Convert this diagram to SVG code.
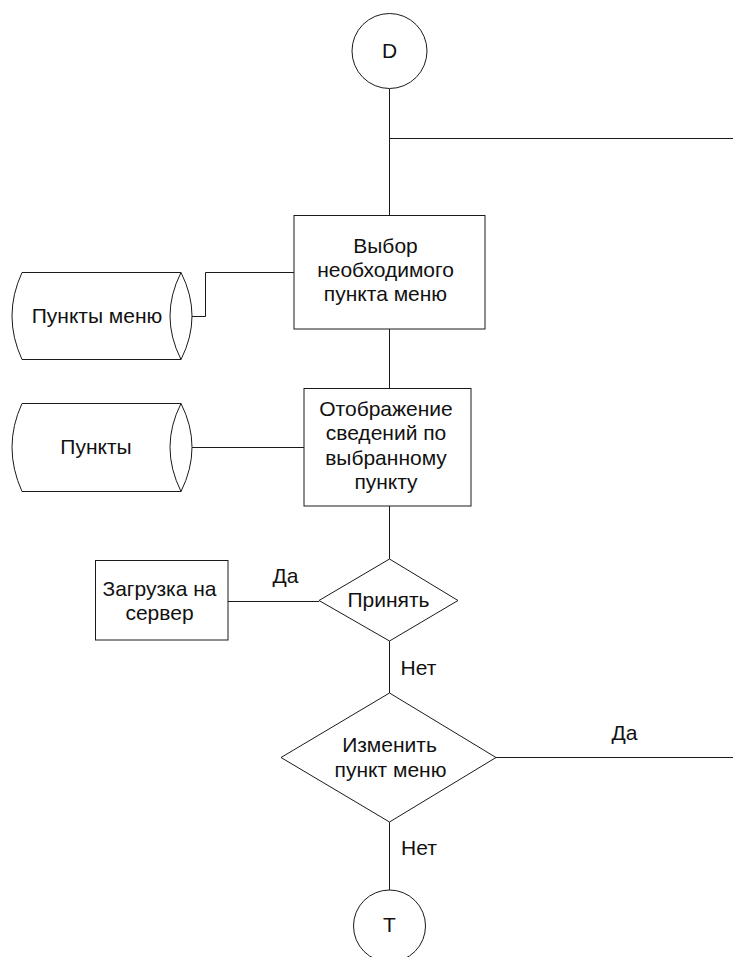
<svg xmlns="http://www.w3.org/2000/svg" width="733" height="957" viewBox="0 0 733 957">
  <style>
    .shape { fill: #ffffff; stroke: #1a1a1a; stroke-width: 1; }
    .line { fill: none; stroke: #1a1a1a; stroke-width: 1; }
    .label { font-family: "Liberation Sans", Arial, sans-serif; font-size: 21px; fill: #111111; text-anchor: middle; }
  </style>
  <rect width="733" height="957" fill="#ffffff"/>

  <!-- connectors -->
  <g id="connectors">
    <line class="line" x1="389.5" y1="89" x2="389.5" y2="215"/>
    <line class="line" x1="389.5" y1="138.5" x2="733" y2="138.5"/>
    <polyline class="line" points="192,316.5 205.5,316.5 205.5,272.5 294,272.5"/>
    <line class="line" x1="389.5" y1="329" x2="389.5" y2="388"/>
    <line class="line" x1="192" y1="447.5" x2="304" y2="447.5"/>
    <line class="line" x1="389.5" y1="506" x2="389.5" y2="559"/>
    <line class="line" x1="228" y1="601.5" x2="319" y2="601.5"/>
    <line class="line" x1="389.5" y1="641" x2="389.5" y2="693"/>
    <line class="line" x1="496" y1="757.5" x2="733" y2="757.5"/>
    <line class="line" x1="389.5" y1="822" x2="389.5" y2="890"/>
    <text class="label" x="285.5" y="583">Да</text>
    <text class="label" x="418.5" y="675">Нет</text>
    <text class="label" x="624.5" y="740">Да</text>
    <text class="label" x="419" y="855">Нет</text>
  </g>

  <!-- start connector -->
  <g id="node-d">
    <circle class="shape" cx="389.5" cy="51" r="37.5"/>
    <text class="label" x="389.5" y="57.5">D</text>
  </g>

  <!-- menu choice -->
  <g id="node-choose">
    <rect class="shape" x="294" y="215.5" width="191" height="113.5"/>
    <text class="label" x="385.5" y="253">Выбор</text>
    <text class="label" x="385.5" y="277">необходимого</text>
    <text class="label" x="385.5" y="301">пункта меню</text>
  </g>

  <!-- stored menu items -->
  <g id="node-menu-items">
    <path class="shape" d="M22,272.5 L181,272.5 Q203,316 181,359.5 L22,359.5 Q2,316 22,272.5 Z"/>
    <path class="line" d="M181,272.5 Q159,316 181,359.5"/>
    <text class="label" x="97" y="323">Пункты меню</text>
  </g>

  <!-- stored items -->
  <g id="node-items">
    <path class="shape" d="M22,403.5 L181,403.5 Q203,447 181,491.5 L22,491.5 Q2,447 22,403.5 Z"/>
    <path class="line" d="M181,403.5 Q159,447 181,491.5"/>
    <text class="label" x="96" y="454">Пункты</text>
  </g>

  <!-- details display -->
  <g id="node-details">
    <rect class="shape" x="304" y="388.5" width="167" height="117.5"/>
    <text class="label" x="386" y="416">Отображение</text>
    <text class="label" x="386" y="440">сведений по</text>
    <text class="label" x="386" y="465">выбранному</text>
    <text class="label" x="386" y="489">пункту</text>
  </g>

  <!-- accept decision -->
  <g id="node-accept">
    <polygon class="shape" points="389.5,559 458,600.5 389.5,641 319,600.5"/>
    <text class="label" x="388.5" y="607">Принять</text>
  </g>

  <!-- upload -->
  <g id="node-upload">
    <rect class="shape" x="95.5" y="560.5" width="132.5" height="79.5"/>
    <text class="label" x="159.5" y="596">Загрузка на</text>
    <text class="label" x="159.5" y="620">сервер</text>
  </g>

  <!-- change decision -->
  <g id="node-change">
    <polygon class="shape" points="389.5,693 496,757.5 389.5,822 281,757.5"/>
    <text class="label" x="389.5" y="752">Изменить</text>
    <text class="label" x="390.5" y="777">пункт меню</text>
  </g>

  <!-- end connector -->
  <g id="node-t">
    <circle class="shape" cx="389.5" cy="926" r="36"/>
    <text class="label" x="389.5" y="932">T</text>
  </g>
</svg>
